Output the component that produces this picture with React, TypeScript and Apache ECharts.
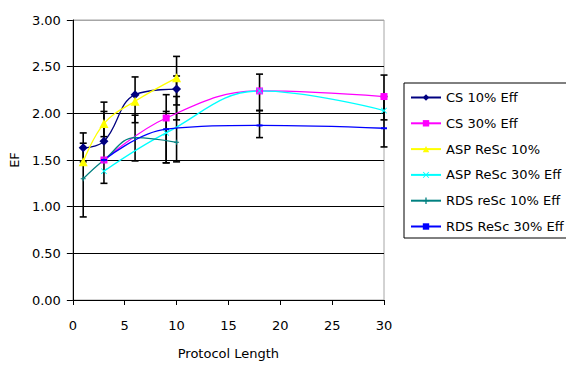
import React, { useEffect, useRef } from "react";
import * as echarts from "echarts";

// Protocol lengths sampled by each scenario
const xs10 = [1, 3, 6, 10];
const xs30 = [3, 9, 18, 30];

// EF values per series
const cs10 = [1.63, 1.7, 2.2, 2.26];
const cs30 = [1.5, 1.95, 2.24, 2.18];
const asp10 = [1.48, 1.89, 2.13, 2.38];
const asp30 = [1.38, 1.79, 2.24, 2.03];
const rds10 = [1.3, 1.5, 1.74, 1.69];
const rds30 = [1.5, 1.83, 1.87, 1.84];

// Error bars: x, low, high
const errX = [1, 1, 3, 3, 6, 6, 9, 9, 10, 10, 10, 18, 18, 30, 30];
const errLow = [0.89, 1.48, 1.25, 1.75, 1.49, 1.9, 1.47, 1.47, 1.48, 1.93, 2.09, 1.74, 2.03, 1.64, 1.93];
const errHigh = [1.68, 1.79, 2.02, 2.12, 1.98, 2.39, 2.02, 2.2, 2.18, 2.61, 2.4, 2.03, 2.42, 2.41, 2.18];

const FONT = "DejaVu Sans";

const xMark = "path://M0,1 L1,0 L5,4 L9,0 L10,1 L6,5 L10,9 L9,10 L5,6 L1,10 L0,9 L4,5 Z";
const plusMark = "path://M4,0 L6,0 L6,4 L10,4 L10,6 L6,6 L6,10 L4,10 L4,6 L0,6 L0,4 L4,4 Z";

const pairs = (xs: number[], ys: number[]) => xs.map((x, i) => [x, ys[i]]);

export default function App() {
  const ref = useRef<HTMLDivElement>(null);

  useEffect(() => {
    if (!ref.current) return;
    const chart = echarts.init(ref.current, undefined, { renderer: "svg" });

    const lineSeries = (
      name: string,
      xs: number[],
      ys: number[],
      color: string,
      symbol: string,
      symbolSize: number | number[]
    ) => ({
      name,
      type: "line",
      data: pairs(xs, ys),
      smooth: 0.4,
      symbol,
      symbolSize,
      z: 3,
      lineStyle: { color, width: 1.3 },
      itemStyle: { color, borderWidth: 0 },
    });

    chart.setOption({
      animation: false,
      backgroundColor: "#ffffff",
      textStyle: { fontFamily: FONT },
      grid: {
        left: 69,
        top: 20,
        right: 182,
        bottom: 60,
        show: true,
        borderColor: "#a6a6a6",
        borderWidth: 1,
        backgroundColor: "#ffffff",
      },
      legend: {
        orient: "vertical",
        left: 404,
        top: 83,
        padding: [8, 6, 5, 6],
        itemWidth: 30,
        itemHeight: 8,
        itemGap: 12.8,
        borderColor: "#000000",
        borderWidth: 1,
        backgroundColor: "#ffffff",
        textStyle: { fontFamily: FONT, fontSize: 13, color: "#000000" },
        data: [
          "CS 10% Eff",
          "CS 30% Eff",
          "ASP ReSc 10%",
          "ASP ReSc 30% Eff",
          "RDS reSc 10% Eff",
          "RDS ReSc 30% Eff",
        ],
      },
      xAxis: {
        type: "value",
        min: 0,
        max: 30,
        interval: 5,
        name: "Protocol Length",
        nameLocation: "middle",
        nameGap: 47,
        nameTextStyle: { fontFamily: FONT, fontSize: 13, color: "#000000" },
        axisLine: { show: true, onZero: false, lineStyle: { color: "#000000", width: 1 } },
        axisTick: { show: true, length: 5, lineStyle: { color: "#000000" } },
        axisLabel: { margin: 19, fontFamily: FONT, fontSize: 13, color: "#000000" },
        splitLine: { show: false },
      },
      yAxis: {
        type: "value",
        min: 0,
        max: 3,
        interval: 0.5,
        name: "EF",
        nameLocation: "middle",
        nameRotate: 90,
        nameGap: 50,
        nameTextStyle: { fontFamily: FONT, fontSize: 13, color: "#000000" },
        axisLine: { show: true, lineStyle: { color: "#000000", width: 1 } },
        axisTick: { show: true, length: 6, lineStyle: { color: "#000000" } },
        axisLabel: {
          margin: 12,
          fontFamily: FONT,
          fontSize: 13,
          color: "#000000",
          formatter: (v: number) => v.toFixed(2),
        },
        splitLine: {
          show: true,
          lineStyle: {
            color: ["#000000", "#000000", "#000000", "#000000", "#000000", "#000000", "#a6a6a6"],
            width: 1,
          },
        },
      },
      series: [
        {
          type: "custom",
          name: "error",
          z: 1,
          silent: true,
          data: errX.map((x, i) => [x, errLow[i], errHigh[i]]),
          encode: { x: 0, y: [1, 2] },
          renderItem: (params: any, api: any) => {
            const x = api.value(0);
            const lo = api.coord([x, api.value(1)]);
            const hi = api.coord([x, api.value(2)]);
            const cap = 3.5;
            const style = { stroke: "#000000", lineWidth: 1.6 };
            return {
              type: "group",
              children: [
                { type: "line", shape: { x1: lo[0], y1: lo[1], x2: hi[0], y2: hi[1] }, style },
                { type: "line", shape: { x1: lo[0] - cap, y1: lo[1], x2: lo[0] + cap, y2: lo[1] }, style },
                { type: "line", shape: { x1: hi[0] - cap, y1: hi[1], x2: hi[0] + cap, y2: hi[1] }, style },
              ],
            };
          },
        },
        lineSeries("CS 10% Eff", xs10, cs10, "#000080", "diamond", 9),
        lineSeries("CS 30% Eff", xs30, cs30, "#ff00ff", "rect", 7),
        lineSeries("ASP ReSc 10%", xs10, asp10, "#ffff00", "triangle", 9),
        lineSeries("ASP ReSc 30% Eff", xs30, asp30, "#00ffff", xMark, 6),
        lineSeries("RDS reSc 10% Eff", xs10, rds10, "#008080", plusMark, 5),
        lineSeries("RDS ReSc 30% Eff", xs30, rds30, "#0000ff", "rect", [6, 2]),
      ],
    });

    return () => chart.dispose();
  }, []);

  return (
    <div
      ref={ref}
      style={{ position: "fixed", left: 0, top: 0, width: 566, height: 365, background: "#fff" }}
    />
  );
}
